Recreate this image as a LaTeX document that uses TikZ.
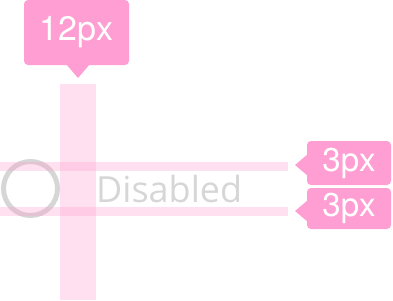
\documentclass[tikz,border=0pt]{standalone}
\usepackage{fontspec}
\setmainfont{Open Sans}
\newfontfamily\helv{TeX Gyre Heros}
\definecolor{tagpink}{RGB}{255,158,210}
\definecolor{guidepink}{RGB}{255,153,204}
\definecolor{offgray}{RGB}{214,214,214}
\tikzset{
  guide/.style={fill=guidepink, fill opacity=0.3},
  tag/.style={fill=tagpink, rounded corners=4, text=white, inner sep=0pt, font=\helv},
}
\begin{document}
\begin{tikzpicture}[x=1pt,y=-1pt]
    \useasboundingbox (0,0) rectangle (393,300);
    % radio button and its label
    \draw [offgray, line width=5] (30.5,188.5) circle (27);
    \node [anchor=base west, inner sep=0pt, text=offgray, font=\fontsize{36}{36}\selectfont] (lbl) at (96,202) {Disabled};
    % spacing guides
    \fill [guide] (60,84) rectangle (96,300);
    \fill [guide] (0,162) rectangle (288,171);
    \fill [guide] (0,207) rectangle (288,216);
    % measurement tags
    \node [tag, minimum width=105, minimum height=65, font=\helv\fontsize{34}{34}\selectfont] (w) at (76.5,32.5) {12px};
    \node [tag, minimum width=84, minimum height=44, font=\helv\fontsize{33}{33}\selectfont] (g1) at (349,163) {3px};
    \node [tag, minimum width=84, minimum height=41, font=\helv\fontsize{33}{33}\selectfont] (g2) at (349,208.5) {3px};
    \coordinate (wtip) at (78,78);
    \coordinate (g1tip) at (295,165);
    \coordinate (g2tip) at (295,211);
    \fill [tagpink] ([xshift=-11]w.south -| wtip) -- (wtip) -- ([xshift=11]w.south -| wtip) -- cycle;
    \fill [tagpink] ([yshift=-10]g1.west |- g1tip) -- (g1tip) -- ([yshift=10]g1.west |- g1tip) -- cycle;
    \fill [tagpink] ([yshift=-10]g2.west |- g2tip) -- (g2tip) -- ([yshift=10]g2.west |- g2tip) -- cycle;
\end{tikzpicture}
\end{document}
